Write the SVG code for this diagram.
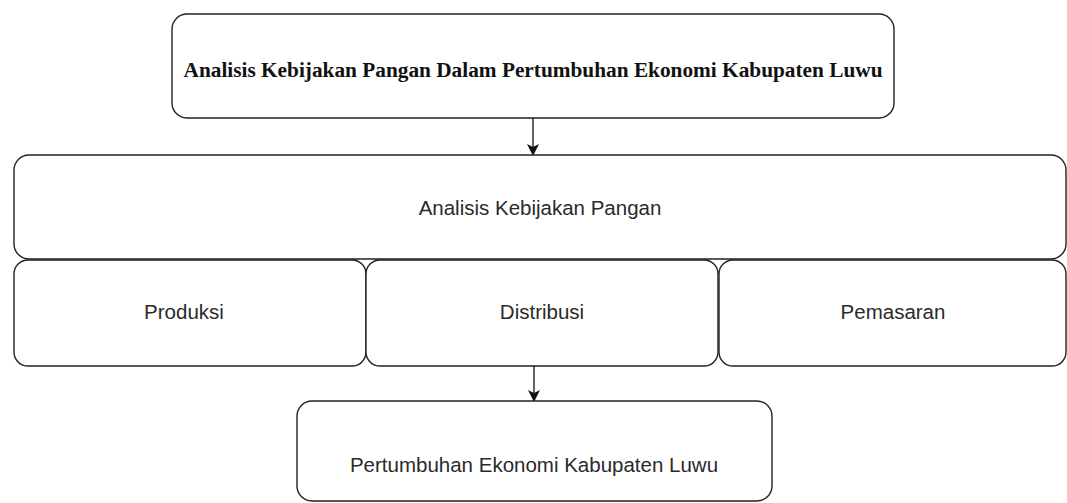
<svg xmlns="http://www.w3.org/2000/svg" width="1067" height="503" viewBox="0 0 1067 503">
<defs>
<style>
.box{fill:#fff;stroke:#222;stroke-width:1.4}
.lbl{font-family:"Liberation Sans",Arial,sans-serif;font-size:20.5px;fill:#2a2a2a;text-anchor:middle}
.title{font-family:"Liberation Serif","Times New Roman",serif;font-size:20.5px;font-weight:bold;fill:#111;text-anchor:middle}
.edge{stroke:#222;stroke-width:1.4;fill:none}
</style>
<marker id="arr" markerWidth="12" markerHeight="12" viewBox="0 0 12 12" refX="11" refY="6" orient="auto" markerUnits="userSpaceOnUse">
<path d="M0,0 L12,6 L0,12 L3,6 Z" fill="#111"/>
</marker>
</defs>
<rect width="1067" height="503" fill="#fff"/>
<g id="connectors">
<line class="edge" x1="533" y1="118" x2="533" y2="155" marker-end="url(#arr)"/>
<line class="edge" x1="534" y1="366" x2="534" y2="401" marker-end="url(#arr)"/>
</g>
<g id="node-title">
<rect class="box" x="172" y="14" width="722" height="104" rx="15"/>
<text class="title" x="533" y="77" textLength="699" lengthAdjust="spacingAndGlyphs">Analisis Kebijakan Pangan Dalam Pertumbuhan Ekonomi Kabupaten Luwu</text>
</g>
<g id="node-analisis">
<rect class="box" x="14" y="155" width="1052" height="104" rx="15"/>
<text class="lbl" x="540" y="215">Analisis Kebijakan Pangan</text>
</g>
<g id="node-produksi">
<rect class="box" x="14" y="260" width="352" height="106" rx="14"/>
<text class="lbl" x="184" y="319">Produksi</text>
</g>
<g id="node-distribusi">
<rect class="box" x="366" y="260" width="352" height="106" rx="14"/>
<text class="lbl" x="542" y="319">Distribusi</text>
</g>
<g id="node-pemasaran">
<rect class="box" x="719" y="260" width="347" height="106" rx="14"/>
<text class="lbl" x="893" y="319">Pemasaran</text>
</g>
<g id="node-pertumbuhan">
<rect class="box" x="297" y="401" width="475" height="100" rx="15"/>
<text class="lbl" x="534" y="472">Pertumbuhan Ekonomi Kabupaten Luwu</text>
</g>
</svg>
